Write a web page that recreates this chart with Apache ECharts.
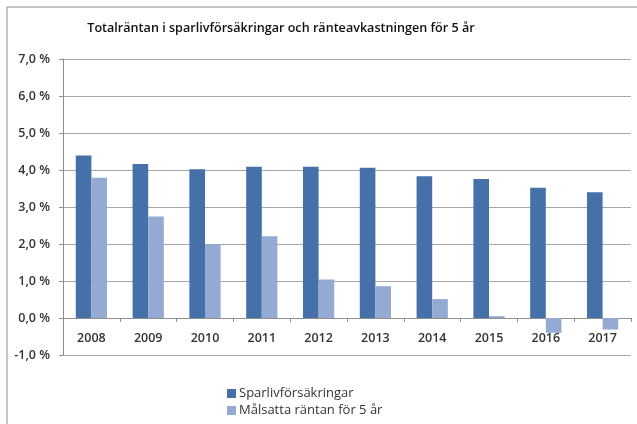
<!DOCTYPE html>
<html>
<head>
<meta charset="utf-8">
<script src="https://cdn.jsdelivr.net/npm/echarts@6/dist/echarts.min.js"></script>
<style>
  html, body { margin: 0; padding: 0; background: #fff; }
  #main { width: 637px; height: 424px; }
</style>
</head>
<body>
<div id="main"></div>
<script>
// år på x-axeln
var years = ['2008', '2009', '2010', '2011', '2012', '2013', '2014', '2015', '2016', '2017']
// Sparlivförsäkringar, totalränta i %
var sparliv = [4.39, 4.16, 4.02, 4.09, 4.09, 4.06, 3.83, 3.76, 3.52, 3.40]
// Målsatta räntan för 5 år, i %
var malsatta = [3.79, 2.74, 2.00, 2.21, 1.04, 0.86, 0.51, 0.05, -0.40, -0.31]
var seriesNames = ['Sparlivförsäkringar', 'Målsatta räntan för 5 år']

var mychart = echarts.init(document.getElementById('main'))
var option = {
  backgroundColor: '#fff',
  animation: false,
  title: {
    text: 'Totalräntan i sparlivförsäkringar och ränteavkastningen för 5 år',
    left: 276,
    top: 17,
    textAlign: 'center',
    textStyle: {
      fontFamily: 'Open Sans',
      fontSize: 12.6,
      fontWeight: 600,
      color: '#111'
    }
  },
  // ram runt diagrammet
  graphic: [{
    type: 'rect',
    shape: { x: 7, y: 7, width: 700, height: 500 },
    style: { fill: 'none', stroke: '#8c8c8c', lineWidth: 1 },
    silent: true
  }],
  grid: {
    left: 63,
    right: 6,
    top: 59,
    bottom: 69
  },
  legend: {
    orient: 'vertical',
    left: 222,
    top: 382,
    itemWidth: 9,
    itemHeight: 9,
    itemGap: 4,
    icon: 'rect',
    textStyle: {
      fontFamily: 'Open Sans',
      fontSize: 13,
      color: '#333',
      padding: [0, 0, 0, -2]
    },
    data: seriesNames
  },
  xAxis: {
    type: 'category',
    data: years,
    axisLine: { onZero: true, lineStyle: { color: '#8e8e8e' } },
    axisTick: { show: true, length: 4, lineStyle: { color: '#8e8e8e' } },
    axisLabel: {
      margin: -23,
      fontFamily: 'Open Sans',
      fontSize: 12.5,
      fontWeight: 600,
      color: '#333'
    }
  },
  yAxis: {
    type: 'value',
    min: -1,
    max: 7,
    interval: 1,
    axisLine: { show: true, lineStyle: { color: '#8e8e8e' } },
    axisTick: { show: true, length: 4, lineStyle: { color: '#8e8e8e' } },
    splitLine: { lineStyle: { color: '#a6a6a6' } },
    axisLabel: {
      margin: 13,
      fontFamily: 'Open Sans',
      fontSize: 12.5,
      fontWeight: 600,
      color: '#333',
      formatter: function (v) {
        return v.toFixed(1).replace('.', ',') + ' %'
      }
    }
  },
  series: [
    {
      name: seriesNames[0],
      type: 'bar',
      data: sparliv,
      barGap: '0%',
      barCategoryGap: '45%',
      itemStyle: { color: '#4571a8' }
    },
    {
      name: seriesNames[1],
      type: 'bar',
      data: malsatta,
      itemStyle: { color: '#94aad2' }
    }
  ]
}
mychart.setOption(option)
</script>
</body>
</html>
